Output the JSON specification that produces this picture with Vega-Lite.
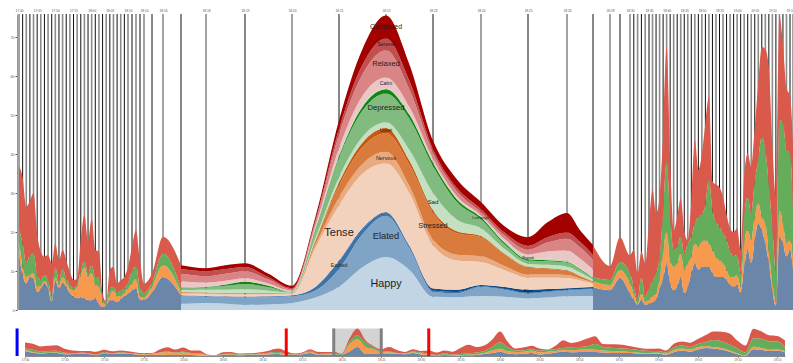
{
  "$schema": "https://vega.github.io/schema/vega-lite/v6.json",
  "width": 776,
  "height": 344,
  "autosize": {"type": "none"},
  "padding": {"left": 17, "top": 14, "right": 0, "bottom": 5},
  "background": "white",
  "config": {"view": {"stroke": null}, "axis": {"labelFont": "Liberation Sans"}, "text": {"font": "Liberation Sans"}},
  "datasets": {
    "agg": [
      {"t":0,"Excitement":14,"Stress":4,"Depression":3,"Relaxation":16},
      {"t":1,"Excitement":9,"Stress":2,"Depression":6,"Relaxation":17},
      {"t":2,"Excitement":6.8,"Stress":1.7,"Depression":3.5,"Relaxation":14.5},
      {"t":3,"Excitement":8.5,"Stress":0.5,"Depression":5,"Relaxation":14},
      {"t":4,"Excitement":8,"Stress":1.5,"Depression":5,"Relaxation":15.5},
      {"t":5,"Excitement":4.5,"Stress":1.5,"Depression":3,"Relaxation":10.7},
      {"t":6,"Excitement":5.5,"Stress":0.7,"Depression":1.5,"Relaxation":7.3},
      {"t":7,"Excitement":6.8,"Stress":0.7,"Depression":1.5,"Relaxation":4.7},
      {"t":8,"Excitement":5.5,"Stress":0.5,"Depression":1.7,"Relaxation":6.4},
      {"t":9,"Excitement":2,"Stress":0.5,"Depression":1,"Relaxation":8.5},
      {"t":10,"Excitement":7.5,"Stress":1,"Depression":2.5,"Relaxation":6.1},
      {"t":11,"Excitement":5.5,"Stress":1,"Depression":1,"Relaxation":5.3},
      {"t":12,"Excitement":7,"Stress":1.5,"Depression":2,"Relaxation":4.9},
      {"t":13,"Excitement":6,"Stress":1,"Depression":1,"Relaxation":4.8},
      {"t":14,"Excitement":4.3,"Stress":1.2,"Depression":1,"Relaxation":3.3},
      {"t":15,"Excitement":3.5,"Stress":1.6,"Depression":0.5,"Relaxation":2.1},
      {"t":16,"Excitement":3,"Stress":3,"Depression":0.5,"Relaxation":1.5},
      {"t":17,"Excitement":3.2,"Stress":5.8,"Depression":1,"Relaxation":8},
      {"t":18,"Excitement":3,"Stress":8,"Depression":1.5,"Relaxation":11.9},
      {"t":19,"Excitement":2.5,"Stress":6,"Depression":1,"Relaxation":8.4},
      {"t":20,"Excitement":2.5,"Stress":7,"Depression":2,"Relaxation":12},
      {"t":21,"Excitement":3,"Stress":3.5,"Depression":2,"Relaxation":6.9},
      {"t":22,"Excitement":1.5,"Stress":4.5,"Depression":2.5,"Relaxation":6.5},
      {"t":23,"Excitement":0.8,"Stress":1.2,"Depression":0.5,"Relaxation":1.8},
      {"t":24,"Excitement":1.2,"Stress":0.1,"Depression":0.6,"Relaxation":0.2},
      {"t":25,"Excitement":2.5,"Stress":1.5,"Depression":1.5,"Relaxation":4.8},
      {"t":26,"Excitement":2.5,"Stress":2.5,"Depression":1,"Relaxation":5.1},
      {"t":27,"Excitement":2,"Stress":1.5,"Depression":1,"Relaxation":2.3},
      {"t":28,"Excitement":2.8,"Stress":0.7,"Depression":1.5,"Relaxation":2.7},
      {"t":29,"Excitement":3.5,"Stress":1,"Depression":1,"Relaxation":3},
      {"t":30,"Excitement":4.2,"Stress":1.3,"Depression":1.5,"Relaxation":4.1},
      {"t":31,"Excitement":5,"Stress":1.8,"Depression":3.2,"Relaxation":6.2},
      {"t":32,"Excitement":5.6,"Stress":2.4,"Depression":3.1,"Relaxation":9.4},
      {"t":33,"Excitement":2.5,"Stress":1,"Depression":2.5,"Relaxation":6.8},
      {"t":34,"Excitement":2.6,"Stress":0.6,"Depression":1.1,"Relaxation":2.5},
      {"t":35,"Excitement":4.5,"Stress":1.5,"Depression":1,"Relaxation":2.4},
      {"t":36,"Excitement":8.5,"Stress":3,"Depression":3,"Relaxation":4.3},
      {"t":37,"Excitement":3.8,"Stress":0.8,"Depression":1.2,"Relaxation":5.7},
      {"t":38,"Excitement":3.6,"Stress":0.9,"Depression":1.45,"Relaxation":4.75},
      {"t":39,"Excitement":3.45,"Stress":0.9,"Depression":3,"Relaxation":4.65},
      {"t":40,"Excitement":3.8,"Stress":0.5,"Depression":0.4,"Relaxation":1.5},
      {"t":41,"Excitement":12.7,"Stress":20.1,"Depression":6.9,"Relaxation":9},
      {"t":42,"Excitement":25.1,"Stress":21.6,"Depression":10.2,"Relaxation":18.7},
      {"t":43,"Excitement":5.5,"Stress":20.1,"Depression":12.4,"Relaxation":5.5},
      {"t":44,"Excitement":6.4,"Stress":12.6,"Depression":5,"Relaxation":3.7},
      {"t":45,"Excitement":5.2,"Stress":5.9,"Depression":2.4,"Relaxation":5.2},
      {"t":46,"Excitement":5.6,"Stress":4.6,"Depression":2.5,"Relaxation":12.2},
      {"t":47,"Excitement":5.9,"Stress":1.5,"Depression":1,"Relaxation":8.3},
      {"t":48,"Excitement":5.1,"Stress":1.3,"Depression":1.3,"Relaxation":3.6},
      {"t":49,"Excitement":8.2,"Stress":2.1,"Depression":2,"Relaxation":6.4},
      {"t":50,"Excitement":4.3,"Stress":2.5,"Depression":2.6,"Relaxation":4.7},
      {"t":51,"Excitement":2.6,"Stress":1.7,"Depression":1.7,"Relaxation":9.4},
      {"t":52,"Excitement":1.3,"Stress":0.4,"Depression":0.9,"Relaxation":6.8},
      {"t":53,"Excitement":2.6,"Stress":1.7,"Depression":4.2,"Relaxation":6.5},
      {"t":54,"Excitement":1.3,"Stress":0.8,"Depression":1.3,"Relaxation":8.6},
      {"t":55,"Excitement":1.7,"Stress":0.9,"Depression":2.9,"Relaxation":16.5},
      {"t":56,"Excitement":2,"Stress":1.5,"Depression":4,"Relaxation":23.3},
      {"t":57,"Excitement":2.6,"Stress":1.7,"Depression":5.1,"Relaxation":15.4},
      {"t":58,"Excitement":5.5,"Stress":2.5,"Depression":5.5,"Relaxation":15.5},
      {"t":59,"Excitement":8,"Stress":7,"Depression":10,"Relaxation":20},
      {"t":60,"Excitement":12,"Stress":8,"Depression":18,"Relaxation":29.5},
      {"t":61,"Excitement":6.8,"Stress":6,"Depression":11.1,"Relaxation":14.6},
      {"t":62,"Excitement":5.1,"Stress":6,"Depression":4.3,"Relaxation":5.1},
      {"t":63,"Excitement":6,"Stress":6,"Depression":4.2,"Relaxation":7.7},
      {"t":64,"Excitement":8.5,"Stress":6,"Depression":4.3,"Relaxation":9.8},
      {"t":65,"Excitement":4.3,"Stress":6,"Depression":4.2,"Relaxation":6},
      {"t":66,"Excitement":6,"Stress":6,"Depression":5.1,"Relaxation":0.8},
      {"t":67,"Excitement":9.4,"Stress":4.3,"Depression":5.1,"Relaxation":9.2},
      {"t":68,"Excitement":12,"Stress":5.1,"Depression":5.1,"Relaxation":21.4},
      {"t":69,"Excitement":10.3,"Stress":5.9,"Depression":7.7,"Relaxation":12.1},
      {"t":70,"Excitement":11.1,"Stress":6.4,"Depression":7,"Relaxation":15.5},
      {"t":71,"Excitement":11.1,"Stress":6.8,"Depression":9.1,"Relaxation":21},
      {"t":72,"Excitement":11.1,"Stress":6,"Depression":16.2,"Relaxation":21.4},
      {"t":73,"Excitement":9.4,"Stress":6,"Depression":10.2,"Relaxation":7.4},
      {"t":74,"Excitement":8.5,"Stress":5,"Depression":9,"Relaxation":9.7},
      {"t":75,"Excitement":8.5,"Stress":4.3,"Depression":8.6,"Relaxation":10.1},
      {"t":76,"Excitement":8.5,"Stress":3.5,"Depression":7.7,"Relaxation":9.3},
      {"t":77,"Excitement":7.7,"Stress":2.6,"Depression":7.6,"Relaxation":6.6},
      {"t":78,"Excitement":6.5,"Stress":2,"Depression":6.5,"Relaxation":6},
      {"t":79,"Excitement":6,"Stress":2.5,"Depression":5.5,"Relaxation":6},
      {"t":80,"Excitement":6.5,"Stress":2.5,"Depression":5,"Relaxation":7},
      {"t":81,"Excitement":4.3,"Stress":1.7,"Depression":3.4,"Relaxation":6},
      {"t":82,"Excitement":11.1,"Stress":6,"Depression":6.8,"Relaxation":10.3},
      {"t":83,"Excitement":15.4,"Stress":5.1,"Depression":8.5,"Relaxation":11.2},
      {"t":84,"Excitement":12,"Stress":5.9,"Depression":6.9,"Relaxation":12},
      {"t":85,"Excitement":18,"Stress":6,"Depression":9,"Relaxation":14},
      {"t":86,"Excitement":22.2,"Stress":5.2,"Depression":11.1,"Relaxation":19.5},
      {"t":87,"Excitement":20.5,"Stress":3.4,"Depression":20.5,"Relaxation":23.1},
      {"t":88,"Excitement":17.1,"Stress":5.1,"Depression":18.8,"Relaxation":26},
      {"t":89,"Excitement":12,"Stress":3,"Depression":17,"Relaxation":30},
      {"t":90,"Excitement":5,"Stress":2,"Depression":14,"Relaxation":21},
      {"t":91,"Excitement":1,"Stress":1,"Depression":8,"Relaxation":19},
      {"t":92,"Excitement":18.8,"Stress":6.8,"Depression":23.1,"Relaxation":26.8},
      {"t":93,"Excitement":17.1,"Stress":5.1,"Depression":25.7,"Relaxation":20.1},
      {"t":94,"Excitement":13.7,"Stress":3.4,"Depression":23.9,"Relaxation":16},
      {"t":95,"Excitement":15.4,"Stress":2.5,"Depression":22.3,"Relaxation":14.8},
      {"t":96,"Excitement":10.3,"Stress":3.4,"Depression":11.9,"Relaxation":17.1}
    ],
    "det": [
      {"t":37,"Happy":1.6,"Elated":2.0,"Excited":0.15,"Alert":0.05,"Tense":0.4,"Nervous":0.2,"Stressed":0.15,"Upset":0.05,"Sad":0.5,"Depressed":0.5,"Lethargic":0.15,"Bored":0.05,"Calm":1.5,"Relaxed":2.0,"Serene":1.2,"Contented":1.0},
      {"t":37.5,"Happy":1.7,"Elated":1.8,"Excited":0.15,"Alert":0.05,"Tense":0.45,"Nervous":0.2,"Stressed":0.15,"Upset":0.05,"Sad":0.6,"Depressed":0.55,"Lethargic":0.1,"Bored":0.05,"Calm":1.3,"Relaxed":1.8,"Serene":1.2,"Contented":0.85},
      {"t":38,"Happy":1.8,"Elated":1.6,"Excited":0.15,"Alert":0.05,"Tense":0.5,"Nervous":0.2,"Stressed":0.15,"Upset":0.05,"Sad":0.7,"Depressed":0.6,"Lethargic":0.1,"Bored":0.05,"Calm":1.1,"Relaxed":1.6,"Serene":1.3,"Contented":0.8},
      {"t":38.5,"Happy":1.6,"Elated":1.75,"Excited":0.1,"Alert":0.05,"Tense":0.5,"Nervous":0.2,"Stressed":0.15,"Upset":0.05,"Sad":0.8,"Depressed":1.0,"Lethargic":0.35,"Bored":0.05,"Calm":0.9,"Relaxed":1.8,"Serene":1.2,"Contented":1.0},
      {"t":39,"Happy":1.3,"Elated":2.0,"Excited":0.1,"Alert":0.05,"Tense":0.5,"Nervous":0.2,"Stressed":0.15,"Upset":0.05,"Sad":1.0,"Depressed":1.3,"Lethargic":0.6,"Bored":0.1,"Calm":0.8,"Relaxed":1.8,"Serene":1.1,"Contented":0.95},
      {"t":39.5,"Happy":1.4,"Elated":1.9,"Excited":0.15,"Alert":0.05,"Tense":0.5,"Nervous":0.2,"Stressed":0.1,"Upset":0.05,"Sad":0.6,"Depressed":0.9,"Lethargic":0.4,"Bored":0.05,"Calm":0.5,"Relaxed":1.0,"Serene":0.6,"Contented":0.9},
      {"t":40,"Happy":1.8,"Elated":1.7,"Excited":0.25,"Alert":0.05,"Tense":0.35,"Nervous":0.07,"Stressed":0.05,"Upset":0.03,"Sad":0.15,"Depressed":0.15,"Lethargic":0.07,"Bored":0.03,"Calm":0.25,"Relaxed":0.35,"Serene":0.3,"Contented":0.6},
      {"t":40.5,"Happy":3.2,"Elated":1.8,"Excited":0.9,"Alert":0.1,"Tense":10,"Nervous":0.8,"Stressed":1.0,"Upset":0.2,"Sad":0.6,"Depressed":2.0,"Lethargic":0.3,"Bored":0.1,"Calm":0.6,"Relaxed":1.0,"Serene":0.5,"Contented":0.9},
      {"t":41,"Happy":6.0,"Elated":4.5,"Excited":2.0,"Alert":0.2,"Tense":14.2,"Nervous":2.0,"Stressed":3.1,"Upset":0.8,"Sad":1.3,"Depressed":4.9,"Lethargic":0.5,"Bored":0.2,"Calm":1.8,"Relaxed":3.5,"Serene":1.5,"Contented":2.2},
      {"t":41.5,"Happy":11,"Elated":8.5,"Excited":1.2,"Alert":0.3,"Tense":14,"Nervous":2.5,"Stressed":4.3,"Upset":1.2,"Sad":1.5,"Depressed":6.7,"Lethargic":1.0,"Bored":0.3,"Calm":2.5,"Relaxed":5.5,"Serene":2.5,"Contented":4.0},
      {"t":42,"Happy":13.6,"Elated":10.6,"Excited":0.7,"Alert":0.2,"Tense":12.6,"Nervous":2.9,"Stressed":4.8,"Upset":1.3,"Sad":1.5,"Depressed":7.4,"Lethargic":1.1,"Bored":0.2,"Calm":2.8,"Relaxed":7.0,"Serene":3.0,"Contented":5.9},
      {"t":42.5,"Happy":10.3,"Elated":5.5,"Excited":0.5,"Alert":0.2,"Tense":13.5,"Nervous":1.8,"Stressed":5.5,"Upset":1.0,"Sad":2.8,"Depressed":8.0,"Lethargic":1.0,"Bored":0.2,"Calm":1.8,"Relaxed":4.5,"Serene":2.2,"Contented":4.2},
      {"t":43,"Happy":3.4,"Elated":1.3,"Excited":0.3,"Alert":0.5,"Tense":11.1,"Nervous":1.5,"Stressed":6.9,"Upset":0.6,"Sad":4.5,"Depressed":6.9,"Lethargic":0.8,"Bored":0.2,"Calm":0.8,"Relaxed":1.5,"Serene":1.0,"Contented":2.2},
      {"t":43.5,"Happy":3.3,"Elated":1.0,"Excited":0.3,"Alert":0.6,"Tense":7.5,"Nervous":1.5,"Stressed":5.5,"Upset":0.5,"Sad":3.0,"Depressed":4.5,"Lethargic":0.7,"Bored":0.2,"Calm":0.6,"Relaxed":1.2,"Serene":0.9,"Contented":2.2},
      {"t":44,"Happy":3.6,"Elated":2.3,"Excited":0.2,"Alert":0.3,"Tense":5.9,"Nervous":1.5,"Stressed":4.9,"Upset":0.3,"Sad":2.0,"Depressed":2.3,"Lethargic":0.5,"Bored":0.2,"Calm":0.3,"Relaxed":0.8,"Serene":0.8,"Contented":1.8},
      {"t":44.5,"Happy":3.4,"Elated":1.8,"Excited":0.2,"Alert":0.5,"Tense":4.3,"Nervous":1.1,"Stressed":3.0,"Upset":0.2,"Sad":1.2,"Depressed":1.2,"Lethargic":0.4,"Bored":0.4,"Calm":0.5,"Relaxed":0.9,"Serene":0.8,"Contented":1.6},
      {"t":45,"Happy":3.0,"Elated":1.2,"Excited":0.2,"Alert":0.8,"Tense":3.1,"Nervous":0.8,"Stressed":1.8,"Upset":0.2,"Sad":0.8,"Depressed":0.8,"Lethargic":0.3,"Bored":0.5,"Calm":0.8,"Relaxed":1.2,"Serene":1.0,"Contented":2.2},
      {"t":45.5,"Happy":3.2,"Elated":1.4,"Excited":0.2,"Alert":0.6,"Tense":2.9,"Nervous":0.8,"Stressed":1.4,"Upset":0.2,"Sad":0.9,"Depressed":0.9,"Lethargic":0.3,"Bored":0.4,"Calm":1.8,"Relaxed":2.3,"Serene":1.4,"Contented":3.8},
      {"t":46,"Happy":3.5,"Elated":1.5,"Excited":0.2,"Alert":0.4,"Tense":2.6,"Nervous":0.8,"Stressed":1.0,"Upset":0.2,"Sad":1.0,"Depressed":1.0,"Lethargic":0.2,"Bored":0.3,"Calm":2.6,"Relaxed":3.0,"Serene":1.6,"Contented":5.0},
      {"t":46.5,"Happy":3.6,"Elated":1.6,"Excited":0.2,"Alert":0.4,"Tense":1.8,"Nervous":0.5,"Stressed":0.6,"Upset":0.1,"Sad":0.8,"Depressed":0.8,"Lethargic":0.2,"Bored":0.2,"Calm":2.4,"Relaxed":2.9,"Serene":1.4,"Contented":3.0},
      {"t":47,"Happy":3.6,"Elated":1.7,"Excited":0.2,"Alert":0.4,"Tense":0.9,"Nervous":0.3,"Stressed":0.2,"Upset":0.1,"Sad":0.4,"Depressed":0.4,"Lethargic":0.1,"Bored":0.1,"Calm":2.0,"Relaxed":2.5,"Serene":1.3,"Contented":2.5}
    ],
    "labels": [
      {"c":"Happy","lt":42},{"c":"Elated","lt":42},{"c":"Excited","lt":41},{"c":"Alert","lt":45},
      {"c":"Tense","lt":41},{"c":"Nervous","lt":42},{"c":"Stressed","lt":43},{"c":"Upset","lt":42},
      {"c":"Sad","lt":43},{"c":"Depressed","lt":42},{"c":"Lethargic","lt":44},{"c":"Bored","lt":45},
      {"c":"Calm","lt":42},{"c":"Relaxed","lt":42},{"c":"Serene","lt":42},{"c":"Contented","lt":42}
    ],
    "controls": [
      {"t":-1,"role":"Range"},
      {"t":33,"role":"Lens"},
      {"t":51,"role":"Lens"},
      {"t":39,"role":"Focus"},
      {"t":45,"role":"Focus"}
    ],
    "brush": [{"t":39,"t2":45}]
  },
  "layer": [
    {
      "encoding": {
        "x": {
          "field": "t", "type": "quantitative",
          "scale": {
            "domain": [0,30,34,35,36,37,38,39,40,41,42,43,44,45,46,47,48,49,50,55,95,96],
            "range": [2,111,127,135,146,164,189,228,275,322,369,416,464,511,550,576,593,603,613,632,773,776],
            "nice": false, "zero": false
          },
          "axis": {
            "orient": "top",
            "values": [0,5,10,15,20,25,30,34,36,38,39,40,41,42,43,44,45,46,48,50,55,60,65,70,75,80,85,90,95],
            "labelExpr": "timeFormat(datetime(2000, 0, 1, 17, 40 + datum.value), '%H:%M')",
            "labelFontSize": 3.2, "labelColor": "#555555", "ticks": false, "domain": false, "grid": false,
            "labelPadding": 1.5, "labelOverlap": false, "labelFlush": false, "title": null
          }
        }
      },
      "layer": [
        {
          "data": {"name": "agg"},
          "transform": [{"filter": "datum.t % 2 == 0"}],
          "mark": {"type": "rule", "color": "#8c8c8c", "strokeWidth": 1.6},
          "encoding": {
            "y": {
              "datum": 0, "type": "quantitative",
              "scale": {"domain": [0, 76], "range": [296, 0], "nice": false, "zero": false},
              "axis": {
                "orient": "left", "values": [0,10,20,30,40,50,60,70], "labelFontSize": 3.6,
                "labelColor": "#555555", "tickSize": 2, "tickColor": "#555555", "domainColor": "#999999",
                "grid": false, "title": null, "labelPadding": 1
              }
            },
            "y2": {"datum": 76}
          }
        },
        {
          "data": {"name": "agg"},
          "transform": [{"filter": "datum.t % 2 == 1"}],
          "mark": {"type": "rule", "color": "#111111", "strokeWidth": 1},
          "encoding": {
            "y": {"datum": 0, "type": "quantitative", "scale": {"domain": [0, 76], "range": [296, 0], "nice": false, "zero": false}, "title": null},
            "y2": {"datum": 76}
          }
        },
        {
          "data": {"name": "agg"},
          "transform": [
            {"filter": "datum.t <= 37"},
            {"fold": ["Excitement","Stress","Depression","Relaxation"], "as": ["c","v"]},
            {"calculate": "indexof(['Excitement','Stress','Depression','Relaxation'], datum.c)", "as": "ord"}
          ],
          "mark": {"type": "area", "interpolate": "monotone"},
          "encoding": {
            "y": {"field": "v", "type": "quantitative", "stack": "zero", "scale": {"domain": [0, 76], "range": [296, 0], "nice": false, "zero": false}, "title": null},
            "color": {"field": "c", "type": "nominal", "legend": null,
              "scale": {"domain": ["Excitement","Stress","Depression","Relaxation","Happy","Elated","Excited","Alert","Tense","Nervous","Stressed","Upset","Sad","Depressed","Lethargic","Bored","Calm","Relaxed","Serene","Contented"],
                        "range": ["#6a87aa","#f79a4e","#65ad5a","#d9594b","#c2d5e4","#7fa4c6","#3c74a9","#0e4c8c","#f2d2bd","#e9aa80","#d97b3c","#c65a10","#c3e0c0","#82bb7f","#138513","#b5d9ae","#ebc6c6","#d98585","#c24f4f","#a30000"]}},
            "order": {"field": "ord", "type": "quantitative"}
          }
        },
        {
          "data": {"name": "agg"},
          "transform": [
            {"filter": "datum.t >= 47"},
            {"fold": ["Excitement","Stress","Depression","Relaxation"], "as": ["c","v"]},
            {"calculate": "indexof(['Excitement','Stress','Depression','Relaxation'], datum.c)", "as": "ord"}
          ],
          "mark": {"type": "area", "interpolate": "monotone"},
          "encoding": {
            "y": {"field": "v", "type": "quantitative", "stack": "zero", "scale": {"domain": [0, 76], "range": [296, 0], "nice": false, "zero": false}, "title": null},
            "color": {"field": "c", "type": "nominal", "legend": null,
              "scale": {"domain": ["Excitement","Stress","Depression","Relaxation","Happy","Elated","Excited","Alert","Tense","Nervous","Stressed","Upset","Sad","Depressed","Lethargic","Bored","Calm","Relaxed","Serene","Contented"],
                        "range": ["#6a87aa","#f79a4e","#65ad5a","#d9594b","#c2d5e4","#7fa4c6","#3c74a9","#0e4c8c","#f2d2bd","#e9aa80","#d97b3c","#c65a10","#c3e0c0","#82bb7f","#138513","#b5d9ae","#ebc6c6","#d98585","#c24f4f","#a30000"]}},
            "order": {"field": "ord", "type": "quantitative"}
          }
        },
        {
          "data": {"name": "det"},
          "transform": [
            {"fold": ["Happy","Elated","Excited","Alert","Tense","Nervous","Stressed","Upset","Sad","Depressed","Lethargic","Bored","Calm","Relaxed","Serene","Contented"], "as": ["c","v"]},
            {"calculate": "indexof(['Happy','Elated','Excited','Alert','Tense','Nervous','Stressed','Upset','Sad','Depressed','Lethargic','Bored','Calm','Relaxed','Serene','Contented'], datum.c)", "as": "ord"}
          ],
          "mark": {"type": "area", "interpolate": "monotone"},
          "encoding": {
            "y": {"field": "v", "type": "quantitative", "stack": "zero", "scale": {"domain": [0, 76], "range": [296, 0], "nice": false, "zero": false}, "title": null},
            "color": {"field": "c", "type": "nominal", "legend": null,
              "scale": {"domain": ["Excitement","Stress","Depression","Relaxation","Happy","Elated","Excited","Alert","Tense","Nervous","Stressed","Upset","Sad","Depressed","Lethargic","Bored","Calm","Relaxed","Serene","Contented"],
                        "range": ["#6a87aa","#f79a4e","#65ad5a","#d9594b","#c2d5e4","#7fa4c6","#3c74a9","#0e4c8c","#f2d2bd","#e9aa80","#d97b3c","#c65a10","#c3e0c0","#82bb7f","#138513","#b5d9ae","#ebc6c6","#d98585","#c24f4f","#a30000"]}},
            "order": {"field": "ord", "type": "quantitative"}
          }
        },
        {
          "data": {"name": "det"},
          "transform": [
            {"fold": ["Happy","Elated","Excited","Alert","Tense","Nervous","Stressed","Upset","Sad","Depressed","Lethargic","Bored","Calm","Relaxed","Serene","Contented"], "as": ["c","v"]},
            {"calculate": "indexof(['Happy','Elated','Excited','Alert','Tense','Nervous','Stressed','Upset','Sad','Depressed','Lethargic','Bored','Calm','Relaxed','Serene','Contented'], datum.c)", "as": "ord"},
            {"stack": "v", "groupby": ["t"], "sort": [{"field": "ord", "order": "ascending"}], "as": ["v0", "v1"]},
            {"lookup": "c", "from": {"data": {"name": "labels"}, "key": "c", "fields": ["lt"]}},
            {"filter": "datum.t == datum.lt"},
            {"calculate": "(datum.v0 + datum.v1) / 2", "as": "mid"}
          ],
          "mark": {"type": "text", "color": "#1e1e1e", "align": "center", "baseline": "middle", "font": "Liberation Sans"},
          "encoding": {
            "y": {"field": "mid", "type": "quantitative", "scale": {"domain": [0, 76], "range": [296, 0], "nice": false, "zero": false}, "title": null},
            "text": {"field": "c", "type": "nominal"},
            "size": {"field": "v", "type": "quantitative", "scale": {"domain": [0, 14], "range": [4, 11]}, "legend": null}
          }
        }
      ]
    },
    {
      "encoding": {
        "x": {
          "field": "t", "type": "quantitative",
          "scale": {"domain": [0, 96], "range": [8, 768], "nice": false, "zero": false},
          "axis": {
            "orient": "bottom", "values": [0,5,10,15,20,25,30,35,40,45,50,55,60,65,70,75,80,85,90,95],
            "labelExpr": "timeFormat(datetime(2000, 0, 1, 17, 40 + datum.value), '%H:%M')",
            "labelFontSize": 3, "labelColor": "#555555", "tickSize": 1.5, "tickColor": "#888888",
            "domainColor": "#888888", "grid": false, "labelPadding": 0.5, "labelOverlap": false,
            "labelFlush": false, "title": null, "offset": -2
          }
        }
      },
      "layer": [
        {
          "data": {"name": "brush"},
          "mark": {"type": "rect", "color": "#d3d3d3"},
          "encoding": {
            "x2": {"field": "t2"},
            "y": {"datum": 0, "type": "quantitative", "scale": {"domain": [0, 80], "range": [342, 313], "nice": false, "zero": false}, "axis": null},
            "y2": {"datum": 76}
          }
        },
        {
          "data": {"name": "agg"},
          "transform": [
            {"fold": ["Excitement","Stress","Depression","Relaxation"], "as": ["c","v"]},
            {"calculate": "indexof(['Excitement','Stress','Depression','Relaxation'], datum.c)", "as": "ord"}
          ],
          "mark": {"type": "area", "interpolate": "monotone"},
          "encoding": {
            "y": {"field": "v", "type": "quantitative", "stack": "zero", "scale": {"domain": [0, 80], "range": [342, 313], "nice": false, "zero": false}, "axis": null},
            "color": {"field": "c", "type": "nominal", "legend": null,
              "scale": {"domain": ["Excitement","Stress","Depression","Relaxation","Happy","Elated","Excited","Alert","Tense","Nervous","Stressed","Upset","Sad","Depressed","Lethargic","Bored","Calm","Relaxed","Serene","Contented"],
                        "range": ["#6a87aa","#f79a4e","#65ad5a","#d9594b","#c2d5e4","#7fa4c6","#3c74a9","#0e4c8c","#f2d2bd","#e9aa80","#d97b3c","#c65a10","#c3e0c0","#82bb7f","#138513","#b5d9ae","#ebc6c6","#d98585","#c24f4f","#a30000"]}},
            "order": {"field": "ord", "type": "quantitative"}
          }
        },
        {
          "data": {"name": "controls"},
          "mark": {"type": "rule", "strokeWidth": 3},
          "encoding": {
            "y": {"datum": 0, "type": "quantitative", "scale": {"domain": [0, 80], "range": [342, 313], "nice": false, "zero": false}, "axis": null},
            "y2": {"datum": 76},
            "stroke": {"field": "role", "type": "nominal", "legend": null,
              "scale": {"domain": ["Range","Lens","Focus"], "range": ["#0000ff","#ff0000","#808080"]}}
          }
        }
      ]
    }
  ],
  "resolve": {"scale": {"x": "independent", "y": "independent"}}
}
